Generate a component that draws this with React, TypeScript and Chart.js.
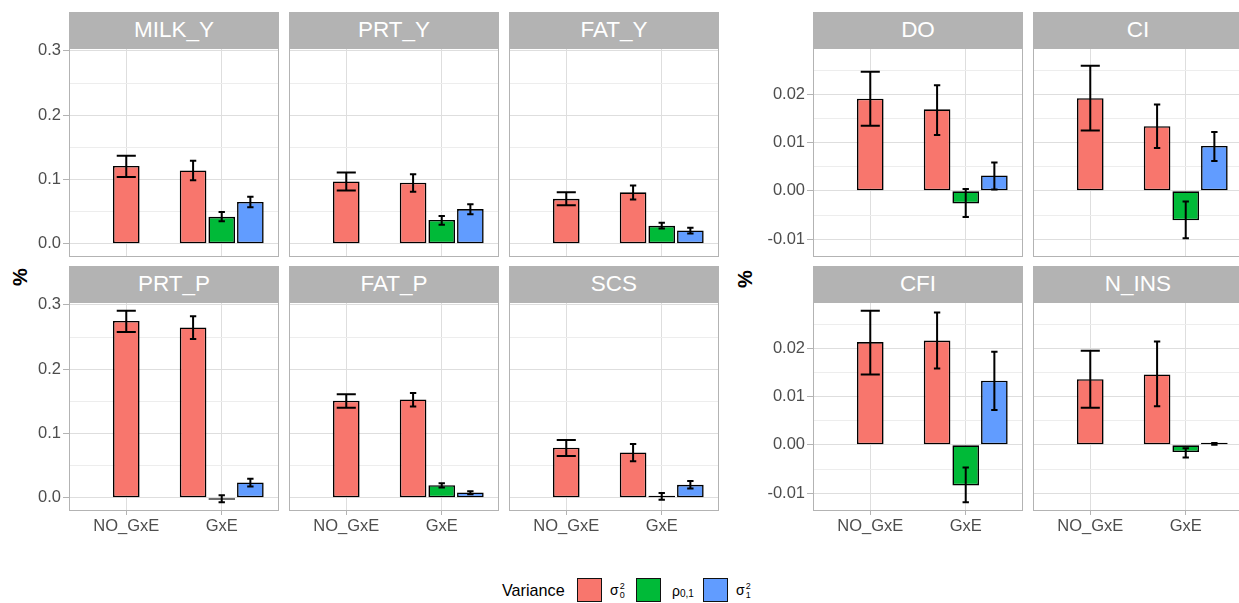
import React, { useEffect, useRef } from "react";
import { Chart, registerables } from "chart.js";

Chart.register(...registerables);

// ---------------- data ----------------
const traits = ["MILK_Y", "PRT_Y", "FAT_Y", "PRT_P", "FAT_P", "SCS", "DO", "CI", "CFI", "N_INS"];
const groups = ["NO_GxE", "GxE"];

// sigma0^2 in the NO_GxE model
const sigma0NoGxE = [0.121, 0.097, 0.070, 0.275, 0.151, 0.078, 0.0191, 0.0192, 0.0213, 0.0136];
const sigma0NoGxELo = [0.104, 0.083, 0.060, 0.258, 0.140, 0.065, 0.0135, 0.0125, 0.0146, 0.0077];
const sigma0NoGxEHi = [0.137, 0.111, 0.080, 0.291, 0.161, 0.090, 0.0247, 0.0259, 0.0278, 0.0195];

// sigma0^2 in the GxE model
const sigma0GxE = [0.114, 0.095, 0.080, 0.265, 0.153, 0.0705, 0.0169, 0.0134, 0.0216, 0.0146];
const sigma0GxELo = [0.099, 0.081, 0.069, 0.247, 0.142, 0.057, 0.0116, 0.0089, 0.0158, 0.0080];
const sigma0GxEHi = [0.129, 0.108, 0.0905, 0.2825, 0.163, 0.0835, 0.0219, 0.0179, 0.0274, 0.0214];

// rho_0,1 in the GxE model
const rhoGxE = [0.042, 0.037, 0.028, -0.0005, 0.0197, 0.002, -0.0026, -0.0061, -0.0084, -0.0015];
const rhoGxELo = [0.035, 0.0295, 0.024, -0.0067, 0.016, -0.003, -0.0054, -0.0098, -0.0119, -0.0026];
const rhoGxEHi = [0.0496, 0.0434, 0.0326, 0.004, 0.0228, 0.0073, 0.0004, -0.0022, -0.0047, -0.0007];

// sigma1^2 in the GxE model
const sigma1GxE = [0.065, 0.054, 0.0207, 0.0238, 0.0083, 0.0202, 0.0032, 0.0093, 0.0133, 0.0002];
const sigma1GxELo = [0.057, 0.046, 0.016, 0.0176, 0.0057, 0.0145, 0.0003, 0.0062, 0.0072, 0.0000];
const sigma1GxEHi = [0.073, 0.0615, 0.0248, 0.0295, 0.0104, 0.026, 0.0059, 0.0122, 0.0193, 0.0004];

// axis ticks
const leftMajorTicks = [0, 0.1, 0.2, 0.3];
const leftMinorTicks = [0.05, 0.15, 0.25];
const leftTickLabels = ["0.0", "0.1", "0.2", "0.3"];
const rightMajorTicks = [-0.01, 0, 0.01, 0.02];
const rightMinorTicks = [-0.005, 0.005, 0.015, 0.025];
const rightTickLabels = ["-0.01", "0.00", "0.01", "0.02"];

// ---------------- style / layout ----------------
const FONT = "'Liberation Sans', Arial, Helvetica, sans-serif";
const RED = "#F8766D";
const GREEN = "#00BA38";
const BLUE = "#619CFF";
const GREY70 = "#B3B3B3";
const GRID_MAJOR = "#DEDEDE";
const GRID_MINOR = "#EDEDED";
const TEXT = "#4D4D4D";

const LEFT_COLS = [69, 289, 509];
const RIGHT_COLS = [813, 1033];
const STRIP_TOPS = [12, 266];
const PLOT_TOPS = [48, 302];
const PANEL_W = 210;
const PLOT_H = 209;
const STRIP_H = 36;
const PAD_TOP = 14;

Chart.defaults.font.family = FONT;

const errorBarPlugin: any = {
  id: "errorBars",
  afterDatasetsDraw(chart: any) {
    const ctx = chart.ctx;
    const xs = chart.scales.x;
    const ys = chart.scales.y;
    ctx.save();
    ctx.strokeStyle = "#000";
    ctx.lineWidth = 2;
    chart.data.datasets.forEach((ds: any, di: number) => {
      const meta = chart.getDatasetMeta(di);
      meta.data.forEach((el: any, k: number) => {
        const lo = ds.errLo[k];
        const hi = ds.errHi[k];
        if (lo == null || hi == null) return;
        const x = el.x;
        const half = (xs.getPixelForValue(ds.errW) - xs.getPixelForValue(0)) / 2;
        const yl = ys.getPixelForValue(lo);
        const yh = ys.getPixelForValue(hi);
        ctx.beginPath();
        ctx.moveTo(x, yl);
        ctx.lineTo(x, yh);
        ctx.moveTo(x - half, yl);
        ctx.lineTo(x + half, yl);
        ctx.moveTo(x - half, yh);
        ctx.lineTo(x + half, yh);
        ctx.stroke();
      });
    });
    ctx.restore();
  },
};

const borderPlugin: any = {
  id: "panelBorder",
  afterDraw(chart: any) {
    const { ctx, chartArea } = chart;
    ctx.save();
    ctx.strokeStyle = GREY70;
    ctx.lineWidth = 1;
    ctx.strokeRect(
      chartArea.left + 0.5,
      chartArea.top + 0.5,
      chartArea.right - chartArea.left - 1,
      chartArea.bottom - chartArea.top - 1
    );
    ctx.restore();
  },
};

function Panel({ i }: { i: number }) {
  const ref = useRef<HTMLCanvasElement>(null);
  const isLeft = i < 6;
  const j = isLeft ? i : i - 6;
  const nCols = isLeft ? 3 : 2;
  const row = Math.floor(j / nCols);
  const col = j % nCols;
  const panelLeft = (isLeft ? LEFT_COLS : RIGHT_COLS)[col];
  const firstCol = col === 0;
  const bottomRow = row === 1;
  const axisW = firstCol ? (isLeft ? 50 : 60) : 0;
  const axisH = bottomRow ? 30 : 0;
  const padTop = firstCol ? PAD_TOP : 0;
  const w = PANEL_W + axisW;
  const h = PLOT_H + axisH + padTop;
  const canvasLeft = panelLeft - axisW;
  const canvasTop = PLOT_TOPS[row] - padTop;

  useEffect(() => {
    if (!ref.current) return;
    const majors = isLeft ? leftMajorTicks : rightMajorTicks;
    const minors = isLeft ? leftMinorTicks : rightMinorTicks;
    const labels = isLeft ? leftTickLabels : rightTickLabels;
    const yMin = isLeft ? -0.0205 : -0.0137;
    const yMax = isLeft ? 0.3045 : 0.0296;

    const common = {
      borderColor: "#000",
      borderWidth: 1.6,
      borderSkipped: false,
      minBarLength: 2,
      categoryPercentage: 0.9,
      barPercentage: 0.93,
    };

    const datasets: any[] = [
      {
        ...common,
        label: "σ0² " + groups[0],
        data: [{ x: 1, y: sigma0NoGxE[i] }],
        errLo: [sigma0NoGxELo[i]],
        errHi: [sigma0NoGxEHi[i]],
        errW: 0.2,
        grouped: false,
        barPercentage: 0.31,
        backgroundColor: RED,
      },
      {
        ...common,
        label: "σ0² " + groups[1],
        data: [{ x: 2, y: sigma0GxE[i] }],
        errLo: [sigma0GxELo[i]],
        errHi: [sigma0GxEHi[i]],
        errW: 0.2 / 3,
        backgroundColor: RED,
      },
      {
        ...common,
        label: "ρ0,1 " + groups[1],
        data: [{ x: 2, y: rhoGxE[i] }],
        errLo: [rhoGxELo[i]],
        errHi: [rhoGxEHi[i]],
        errW: 0.2 / 3,
        backgroundColor: GREEN,
      },
      {
        ...common,
        label: "σ1² " + groups[1],
        data: [{ x: 2, y: sigma1GxE[i] }],
        errLo: [sigma1GxELo[i]],
        errHi: [sigma1GxEHi[i]],
        errW: 0.2 / 3,
        backgroundColor: BLUE,
      },
    ];

    const chart = new Chart(ref.current, {
      type: "bar",
      data: { datasets },
      plugins: [errorBarPlugin, borderPlugin],
      options: {
        responsive: false,
        animation: false,
        devicePixelRatio: 1,
        events: [],
        layout: { padding: { top: padTop, left: 0, right: 0, bottom: 0 } },
        plugins: {
          legend: { display: false },
          tooltip: { enabled: false },
          title: { display: false },
        },
        scales: {
          x: {
            type: "linear",
            min: 0.4,
            max: 2.6,
            offset: false,
            afterBuildTicks: (s: any) => {
              s.ticks = groups.map((_, g) => ({ value: g + 1 }));
            },
            afterFit: (s: any) => {
              s.height = axisH;
              s.paddingLeft = 0;
              s.paddingRight = 0;
            },
            ticks: {
              display: bottomRow,
              autoSkip: false,
              maxRotation: 0,
              padding: 2,
              color: TEXT,
              font: { size: 16.5, family: FONT },
              callback: (v: any) => groups[Math.round(Number(v)) - 1] ?? "",
            },
            grid: {
              offset: false,
              color: GRID_MAJOR,
              lineWidth: 1,
              drawTicks: bottomRow,
              tickLength: 4,
              tickColor: GREY70,
            },
            border: { display: false },
          },
          y: {
            type: "linear",
            min: yMin,
            max: yMax,
            afterBuildTicks: (s: any) => {
              const t = [
                ...majors.map((v) => ({ value: v, minor: false })),
                ...minors.map((v) => ({ value: v, minor: true })),
              ];
              t.sort((a, b) => a.value - b.value);
              s.ticks = t;
            },
            afterFit: (s: any) => {
              s.width = axisW;
              s.paddingTop = 0;
              s.paddingBottom = 0;
            },
            ticks: {
              display: firstCol,
              autoSkip: false,
              padding: 2,
              color: TEXT,
              font: { size: 16.5, family: FONT },
              callback: (v: any) => {
                const k = majors.findIndex((m) => Math.abs(m - Number(v)) < 1e-9);
                return k >= 0 ? labels[k] : "";
              },
            },
            grid: {
              color: (c: any) => (c.tick && c.tick.minor ? GRID_MINOR : GRID_MAJOR),
              lineWidth: 1,
              drawTicks: firstCol,
              tickLength: 6,
              tickColor: (c: any) => (c.tick && c.tick.minor ? "rgba(0,0,0,0)" : GREY70),
            },
            border: { display: false },
          },
        },
      } as any,
    } as any);
    return () => chart.destroy();
  }, [i]);

  return (
    <>
      <div
        style={{
          position: "absolute",
          left: panelLeft,
          top: STRIP_TOPS[row],
          width: PANEL_W,
          height: STRIP_H,
          background: GREY70,
          color: "#fff",
          fontFamily: FONT,
          fontSize: 22.5,
          display: "flex",
          alignItems: "center",
          justifyContent: "center",
          lineHeight: 1,
        }}
      >
        {traits[i]}
      </div>
      <canvas
        ref={ref}
        width={w}
        height={h}
        style={{ position: "absolute", left: canvasLeft, top: canvasTop, width: w, height: h }}
      />
    </>
  );
}

function Scripted({ base, sup, sub }: { base: string; sup?: string; sub?: string }) {
  return (
    <span style={{ display: "inline-flex", alignItems: "center", fontFamily: FONT, color: "#000" }}>
      <span style={{ fontSize: 14 }}>{base}</span>
      <span
        style={{
          display: "inline-flex",
          flexDirection: "column",
          fontSize: 9,
          lineHeight: "9px",
          marginLeft: 1,
          marginTop: 2,
        }}
      >
        <span>{sup ?? "\u00a0"}</span>
        <span>{sub}</span>
      </span>
    </span>
  );
}

function LegendKey({ left, color }: { left: number; color: string }) {
  return (
    <div
      style={{
        position: "absolute",
        left,
        top: 578,
        width: 25,
        height: 24,
        boxSizing: "border-box",
        background: color,
        border: "1.5px solid #111",
      }}
    />
  );
}

function YTitle({ x, y }: { x: number; y: number }) {
  return (
    <div
      style={{
        position: "absolute",
        left: x,
        top: y,
        transform: "translate(-50%, -50%) rotate(-90deg)",
        fontFamily: FONT,
        fontWeight: "bold",
        fontSize: 20,
        color: "#000",
        lineHeight: 1,
      }}
    >
      %
    </div>
  );
}

export default function App() {
  return (
    <div
      style={{
        position: "fixed",
        left: 0,
        top: 0,
        width: 1239,
        height: 603,
        overflow: "hidden",
        background: "#fff",
      }}
    >
      {traits.map((_, i) => (
        <Panel key={i} i={i} />
      ))}
      <YTitle x={20} y={277} />
      <YTitle x={745} y={279} />
      <div
        style={{
          position: "absolute",
          left: 502,
          top: 580,
          fontFamily: FONT,
          fontSize: 16.2,
          color: "#000",
          lineHeight: "20px",
        }}
      >
        Variance
      </div>
      <LegendKey left={577} color={RED} />
      <div style={{ position: "absolute", left: 610, top: 580 }}>
        <Scripted base="σ" sup="2" sub="0" />
      </div>
      <LegendKey left={636} color={GREEN} />
      <div style={{ position: "absolute", left: 672, top: 582, fontFamily: FONT, color: "#000" }}>
        <span style={{ fontSize: 14 }}>ρ</span>
        <span style={{ fontSize: 10, position: "relative", top: 1 }}>0,1</span>
      </div>
      <LegendKey left={703} color={BLUE} />
      <div style={{ position: "absolute", left: 736, top: 580 }}>
        <Scripted base="σ" sup="2" sub="1" />
      </div>
    </div>
  );
}
